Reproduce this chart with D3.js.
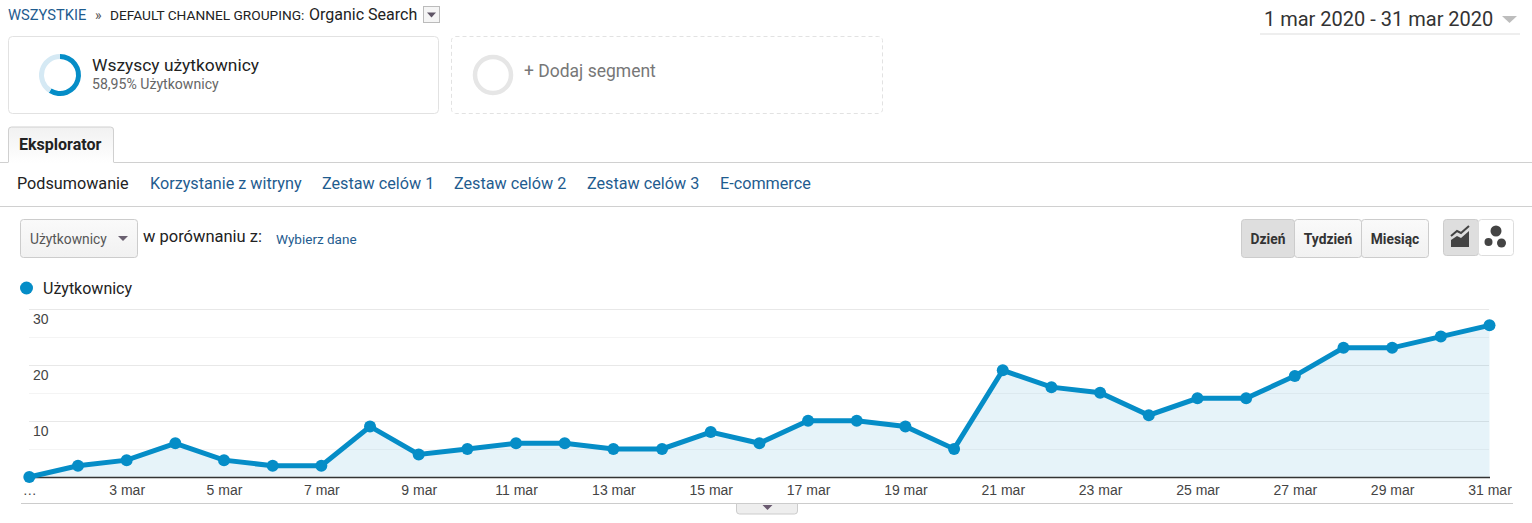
<!DOCTYPE html>
<html lang="pl">
<head>
<meta charset="UTF-8">
<title>Eksplorator - Organic Search</title>
<script src="https://d3js.org/d3.v7.min.js"></script>
<style>
  html, body { margin: 0; padding: 0; background: #fff; overflow: hidden; }
  svg { display: block; font-family: Roboto, Arial, sans-serif; }
  .link { fill: #1f5c8f; }
  .dark { fill: #222; }
  .btn-text { font-size: 13.8px; font-weight: 700; fill: #333; text-anchor: middle; }
  .x-axis text, .y-axis text { font-family: "Liberation Sans", Arial, sans-serif; font-size: 14px; fill: #444; }
</style>
</head>
<body>
<svg id="chart" width="1532" height="523"></svg>
<script>
// values
const days = d3.range(1, 32);
const users = [0, 2, 3, 6, 3, 2, 2, 9, 4, 5, 6, 6, 5, 5, 8, 6, 10, 10, 9, 5, 19, 16, 15, 11, 14, 14, 18, 23, 23, 25, 27];
const xTickDays = [1, 3, 5, 7, 9, 11, 13, 15, 17, 19, 21, 23, 25, 27, 29, 31];
const xTickLabels = ["…", "3 mar", "5 mar", "7 mar", "9 mar", "11 mar", "13 mar", "15 mar", "17 mar", "19 mar", "21 mar", "23 mar", "25 mar", "27 mar", "29 mar", "31 mar"];
const yLabelTicks = [10, 20, 30];
const yGridTicks = [5, 10, 15, 20, 25, 30];
const segmentShare = [58.95, 41.05];
const tabs = ["Podsumowanie", "Korzystanie z witryny", "Zestaw celów 1", "Zestaw celów 2", "Zestaw celów 3", "E-commerce"];
const tabX = [17, 150, 322, 454, 587, 720];

const blue = "#058dc7";
const svg = d3.select("#chart");

function label(x, y, str, size, cls, fill) {
  const t = svg.append("text").attr("x", x).attr("y", y).attr("font-size", size).text(str);
  if (cls) t.attr("class", cls);
  if (fill) t.attr("fill", fill);
  return t;
}
function tri(cx, cy, w, h, color) {
  svg.append("path")
    .attr("d", `M${cx - w / 2},${cy - h / 2}L${cx + w / 2},${cy - h / 2}L${cx},${cy + h / 2}Z`)
    .attr("fill", color);
}

const defs = svg.append("defs");
const btnGrad = defs.append("linearGradient").attr("id", "btn").attr("x2", 0).attr("y2", 1);
btnGrad.append("stop").attr("offset", 0).attr("stop-color", "#fafafa");
btnGrad.append("stop").attr("offset", 1).attr("stop-color", "#f1f1f1");
const tabGrad = defs.append("linearGradient").attr("id", "tabbg").attr("x2", 0).attr("y2", 1);
tabGrad.append("stop").attr("offset", 0).attr("stop-color", "#f1f1f1");
tabGrad.append("stop").attr("offset", 1).attr("stop-color", "#ffffff");

// breadcrumb
label(8, 20, "WSZYSTKIE", 14.7, "link");
label(95, 20, "»", 14, null, "#555");
label(110, 20, "DEFAULT CHANNEL GROUPING:", 13.7, "dark");
label(309, 20, "Organic Search", 16, "dark");
svg.append("rect").attr("x", 423.5).attr("y", 6.5).attr("width", 16).attr("height", 16).attr("fill", "#f5f5f5").attr("stroke", "#bbb");
tri(431.5, 15, 9, 5, "#5f5566");

// date range
label(1264, 26, "1 mar 2020 - 31 mar 2020", 20, null, "#333");
tri(1509.5, 19.5, 15, 7, "#bdbdbd");
svg.append("rect").attr("x", 1260).attr("y", 33).attr("width", 260).attr("height", 2).attr("fill", "#eee");

// segment boxes
svg.append("rect").attr("x", 8.5).attr("y", 36.5).attr("width", 430).attr("height", 77).attr("rx", 4).attr("fill", "#fff").attr("stroke", "#e2e2e2");
svg.append("rect").attr("x", 451.5).attr("y", 36.5).attr("width", 431).attr("height", 77).attr("rx", 4).attr("fill", "#fff").attr("stroke", "#e2e2e2").attr("stroke-dasharray", "4,3");

const donut = svg.append("g").attr("transform", "translate(60,75)");
const arc = d3.arc().innerRadius(16).outerRadius(21);
donut.selectAll("path")
  .data(d3.pie().sort(null)(segmentShare))
  .join("path")
  .attr("d", arc)
  .attr("fill", (d, i) => i === 0 ? blue : "#d5e9f4");
svg.append("circle").attr("cx", 493).attr("cy", 75).attr("r", 18).attr("fill", "none").attr("stroke", "#e6e6e6").attr("stroke-width", 4.5);

label(92, 71, "Wszyscy użytkownicy", 17.4, null, "#222");
label(92, 89, "58,95% Użytkownicy", 14.1, null, "#666");
label(524, 77, "+ Dodaj segment", 17.5, null, "#777");

// tab strip
svg.append("rect").attr("x", 0).attr("y", 162).attr("width", 1532).attr("height", 1).attr("fill", "#d0d0d0");
svg.append("path").attr("d", "M8,163V130a3,3 0 0 1 3,-3H111a3,3 0 0 1 3,3V163Z").attr("fill", "url(#tabbg)");
svg.append("path").attr("d", "M8.5,162.5V130a3,3 0 0 1 3,-3H110.5a3,3 0 0 1 3,3V162.5").attr("fill", "none").attr("stroke", "#d0d0d0");
label(19, 150, "Eksplorator", 16, null, "#222").attr("font-weight", 700);

svg.selectAll(".tab")
  .data(tabs)
  .join("text")
  .attr("class", "tab")
  .attr("x", (d, i) => tabX[i])
  .attr("y", 189)
  .attr("font-size", 16.2)
  .attr("fill", (d, i) => i === 0 ? "#222" : "#1f5c8f")
  .text(d => d);
svg.append("rect").attr("x", 0).attr("y", 206).attr("width", 1532).attr("height", 1).attr("fill", "#d0d0d0");

// metric picker
svg.append("rect").attr("x", 20.5).attr("y", 219.5).attr("width", 117).attr("height", 38).attr("rx", 3).attr("fill", "url(#btn)").attr("stroke", "#ccc");
label(30, 244, "Użytkownicy", 13.8, null, "#555");
tri(123, 238.5, 10, 5, "#6a6070");
label(143, 242, "w porównaniu z:", 16.5, null, "#222");
label(276, 244, "Wybierz dane", 13.5, "link");

// day/week/month buttons
const groupEdges = [1241, 1294, 1361, 1428];
const groupLabels = ["Dzień", "Tydzień", "Miesiąc"];
svg.selectAll(".period")
  .data(groupLabels)
  .join("rect")
  .attr("class", "period")
  .attr("x", (d, i) => groupEdges[i] + 0.5)
  .attr("y", 219.5)
  .attr("width", (d, i) => groupEdges[i + 1] - groupEdges[i])
  .attr("height", 38)
  .attr("rx", 3)
  .attr("fill", (d, i) => i === 0 ? "#dedede" : "url(#btn)")
  .attr("stroke", "#ccc");
svg.selectAll(".btn-text")
  .data(groupLabels)
  .join("text")
  .attr("class", "btn-text")
  .attr("x", (d, i) => (groupEdges[i] + groupEdges[i + 1]) / 2 + 0.5)
  .attr("y", 244)
  .text(d => d);

// chart type buttons
svg.append("rect").attr("x", 1443.5).attr("y", 219.5).attr("width", 35).attr("height", 36).attr("rx", 3).attr("fill", "#dedede").attr("stroke", "#ccc");
svg.append("rect").attr("x", 1478.5).attr("y", 219.5).attr("width", 35).attr("height", 36).attr("rx", 3).attr("fill", "#fff").attr("stroke", "#ddd");
svg.append("path").attr("d", "M1451,247V240L1457,236L1461,238L1469,231V247Z").attr("fill", "#444");
svg.append("path").attr("d", "M1451,236L1457,231L1461,233L1469,226").attr("fill", "none").attr("stroke", "#444").attr("stroke-width", 2);
svg.append("circle").attr("cx", 1496).attr("cy", 231).attr("r", 5.5).attr("fill", "#444");
svg.append("circle").attr("cx", 1488.5).attr("cy", 242).attr("r", 4).attr("fill", "#444");
svg.append("circle").attr("cx", 1501.5).attr("cy", 243).attr("r", 4.5).attr("fill", "#444");

// legend
svg.append("circle").attr("cx", 26.5).attr("cy", 288).attr("r", 6.5).attr("fill", blue);
label(43, 294, "Użytkownicy", 16, null, "#222");

// chart
const x = d3.scaleLinear().domain([1, 31]).range([29.3, 1489.5]);
const y = d3.scaleLinear().domain([0, 30]).range([477, 308.5]);

svg.append("g")
  .selectAll("line")
  .data(yGridTicks)
  .join("line")
  .attr("x1", 29).attr("x2", 1489)
  .attr("y1", d => Math.round(y(d)) + 0.5)
  .attr("y2", d => Math.round(y(d)) + 0.5)
  .attr("stroke", (d, i) => i % 2 ? "#e8e8e8" : "#f4f4f4");

const area = d3.area().x((d, i) => x(days[i])).y0(y(0)).y1(d => y(d));
const line = d3.line().x((d, i) => x(days[i])).y(d => y(d));

svg.append("path").datum(users).attr("d", area).attr("fill", blue).attr("fill-opacity", 0.1);

const xAxis = d3.axisBottom(x)
  .tickValues(xTickDays)
  .tickFormat((d, i) => xTickLabels[i])
  .tickSize(0)
  .tickPadding(8);
const xg = svg.append("g").attr("class", "x-axis").attr("transform", "translate(0,477)").call(xAxis);
xg.select(".domain").attr("stroke", "#333").attr("stroke-width", 1.5);

const yAxis = d3.axisRight(y).tickValues(yLabelTicks).tickSize(0).tickPadding(0);
const yg = svg.append("g").attr("class", "y-axis").attr("transform", "translate(33,0)").call(yAxis);
yg.select(".domain").remove();
yg.selectAll("text").attr("y", 10.5);

svg.append("path").datum(users).attr("d", line).attr("fill", "none").attr("stroke", blue).attr("stroke-width", 5);
svg.selectAll(".dot")
  .data(users)
  .join("circle")
  .attr("class", "dot")
  .attr("cx", (d, i) => x(days[i]))
  .attr("cy", d => y(d))
  .attr("r", 6)
  .attr("fill", blue);

// bottom rule and collapse tab
svg.append("rect").attr("x", 21).attr("y", 503).attr("width", 1492).attr("height", 1).attr("fill", "#ccc");
svg.append("path").attr("d", "M736.5,503.5V511a3,3 0 0 0 3,3H794.5a3,3 0 0 0 3,-3V503.5Z").attr("fill", "#eee").attr("stroke", "#ccc");
tri(767.5, 507.5, 10, 5, "#6a5a70");
</script>
</body>
</html>
